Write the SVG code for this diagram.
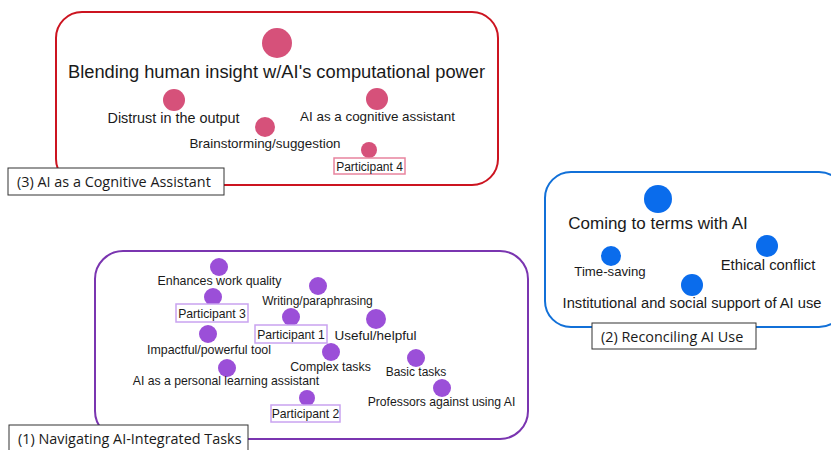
<svg xmlns="http://www.w3.org/2000/svg" width="831" height="450" viewBox="0 0 831 450">
<style>
text{font-family:"Liberation Sans",Arial,sans-serif;fill:#1a1a1a}
.t{text-anchor:middle}
.red{fill:#d6517a}
.blue{fill:#0a6cec}
.pur{fill:#9b4fd8}
.lbl{fill:#fff;stroke:#333;stroke-width:1}
.lt{font-family:"Open Sans","Liberation Sans",sans-serif;font-size:14.4px}
.pp{fill:#fff;stroke:#c9a3f0;stroke-width:1.5}
</style>
<rect width="831" height="450" fill="#fff"/>
<g id="connectors"></g>

<g id="theme3">
<rect x="56" y="12" width="442" height="173" rx="26" fill="#fff" stroke="#cc1420" stroke-width="2"/>
<rect class="lbl" x="8" y="168" width="216" height="27"/>
<text class="lt" x="17" y="187">(3) AI as a Cognitive Assistant</text>
</g>
<g id="n-blending"><circle class="red" cx="277" cy="43" r="15"/><text class="t" x="276.5" y="78" font-size="18.3">Blending human insight w/AI's computational power</text></g>
<g id="n-distrust"><circle class="red" cx="174" cy="100" r="11"/><text class="t" x="173.5" y="123" font-size="14.4">Distrust in the output</text></g>
<g id="n-cogassist"><circle class="red" cx="377" cy="99" r="11"/><text class="t" x="377.5" y="121" font-size="13.4">AI as a cognitive assistant</text></g>
<g id="n-brainstorm"><circle class="red" cx="265" cy="127" r="10"/><text class="t" x="265" y="148" font-size="13.4">Brainstorming/suggestion</text></g>
<g id="n-p4"><circle class="red" cx="369" cy="150" r="8"/><rect x="334" y="158" width="71" height="16" fill="#fff" stroke="#e8849e" stroke-width="1.5"/><text class="t" x="369.5" y="170.5" font-size="12">Participant 4</text></g>

<g id="theme2">
<rect x="545" y="172" width="300" height="155" rx="26" fill="#fff" stroke="#1170d8" stroke-width="2"/>
<rect class="lbl" x="592" y="323" width="164" height="26"/>
<text class="lt" x="601" y="342">(2) Reconciling AI Use</text>
</g>
<g id="n-coming"><circle class="blue" cx="658" cy="199" r="14"/><text class="t" x="658" y="229" font-size="17">Coming to terms with AI</text></g>
<g id="n-timesaving"><circle class="blue" cx="611" cy="256" r="10"/><text class="t" x="610" y="276" font-size="13.2">Time-saving</text></g>
<g id="n-ethical"><circle class="blue" cx="767" cy="246" r="11"/><text class="t" x="768" y="270" font-size="14.8">Ethical conflict</text></g>
<g id="n-institutional"><circle class="blue" cx="692" cy="285" r="11"/><text class="t" x="692" y="308" font-size="14.7">Institutional and social support of AI use</text></g>

<g id="theme1">
<rect x="95" y="251" width="433" height="188" rx="28" fill="#fff" stroke="#7a35b0" stroke-width="2"/>
<rect class="lbl" x="9" y="425" width="239" height="30"/>
<text class="lt" x="18" y="444">(1) Navigating AI-Integrated Tasks</text>
</g>
<g id="n-enhances"><circle class="pur" cx="219" cy="267" r="9"/><text class="t" x="219.5" y="285" font-size="12.4">Enhances work quality</text></g>
<g id="n-p3"><circle class="pur" cx="213" cy="297" r="9"/><rect class="pp" x="176" y="304" width="72" height="18"/><text class="t" x="212" y="317.5" font-size="12.2">Participant 3</text></g>
<g id="n-impactful"><circle class="pur" cx="208" cy="334" r="9"/><text class="t" x="209" y="354" font-size="12.4">Impactful/powerful tool</text></g>
<g id="n-personal"><circle class="pur" cx="227" cy="368" r="9"/><text class="t" x="226" y="385" font-size="12.2">AI as a personal learning assistant</text></g>
<g id="n-writing"><circle class="pur" cx="318" cy="286" r="9"/><text class="t" x="317.5" y="305" font-size="12">Writing/paraphrasing</text></g>
<g id="n-p1"><circle class="pur" cx="291" cy="317" r="9"/><rect class="pp" x="255" y="325" width="72" height="18"/><text class="t" x="291" y="338.5" font-size="12.2">Participant 1</text></g>
<g id="n-useful"><circle class="pur" cx="376" cy="319" r="10"/><text class="t" x="375.5" y="340" font-size="13.5">Useful/helpful</text></g>
<g id="n-complex"><circle class="pur" cx="331" cy="352" r="9"/><text class="t" x="330.5" y="371" font-size="12.3">Complex tasks</text></g>
<g id="n-p2"><circle class="pur" cx="307" cy="398" r="8"/><rect class="pp" x="271" y="405" width="69" height="17"/><text class="t" x="305.5" y="418" font-size="12.2">Participant 2</text></g>
<g id="n-basic"><circle class="pur" cx="416" cy="358" r="9"/><text class="t" x="416" y="376" font-size="12">Basic tasks</text></g>
<g id="n-professors"><circle class="pur" cx="442" cy="388" r="9"/><text class="t" x="441.5" y="406" font-size="12.2">Professors against using AI</text></g>
</svg>
